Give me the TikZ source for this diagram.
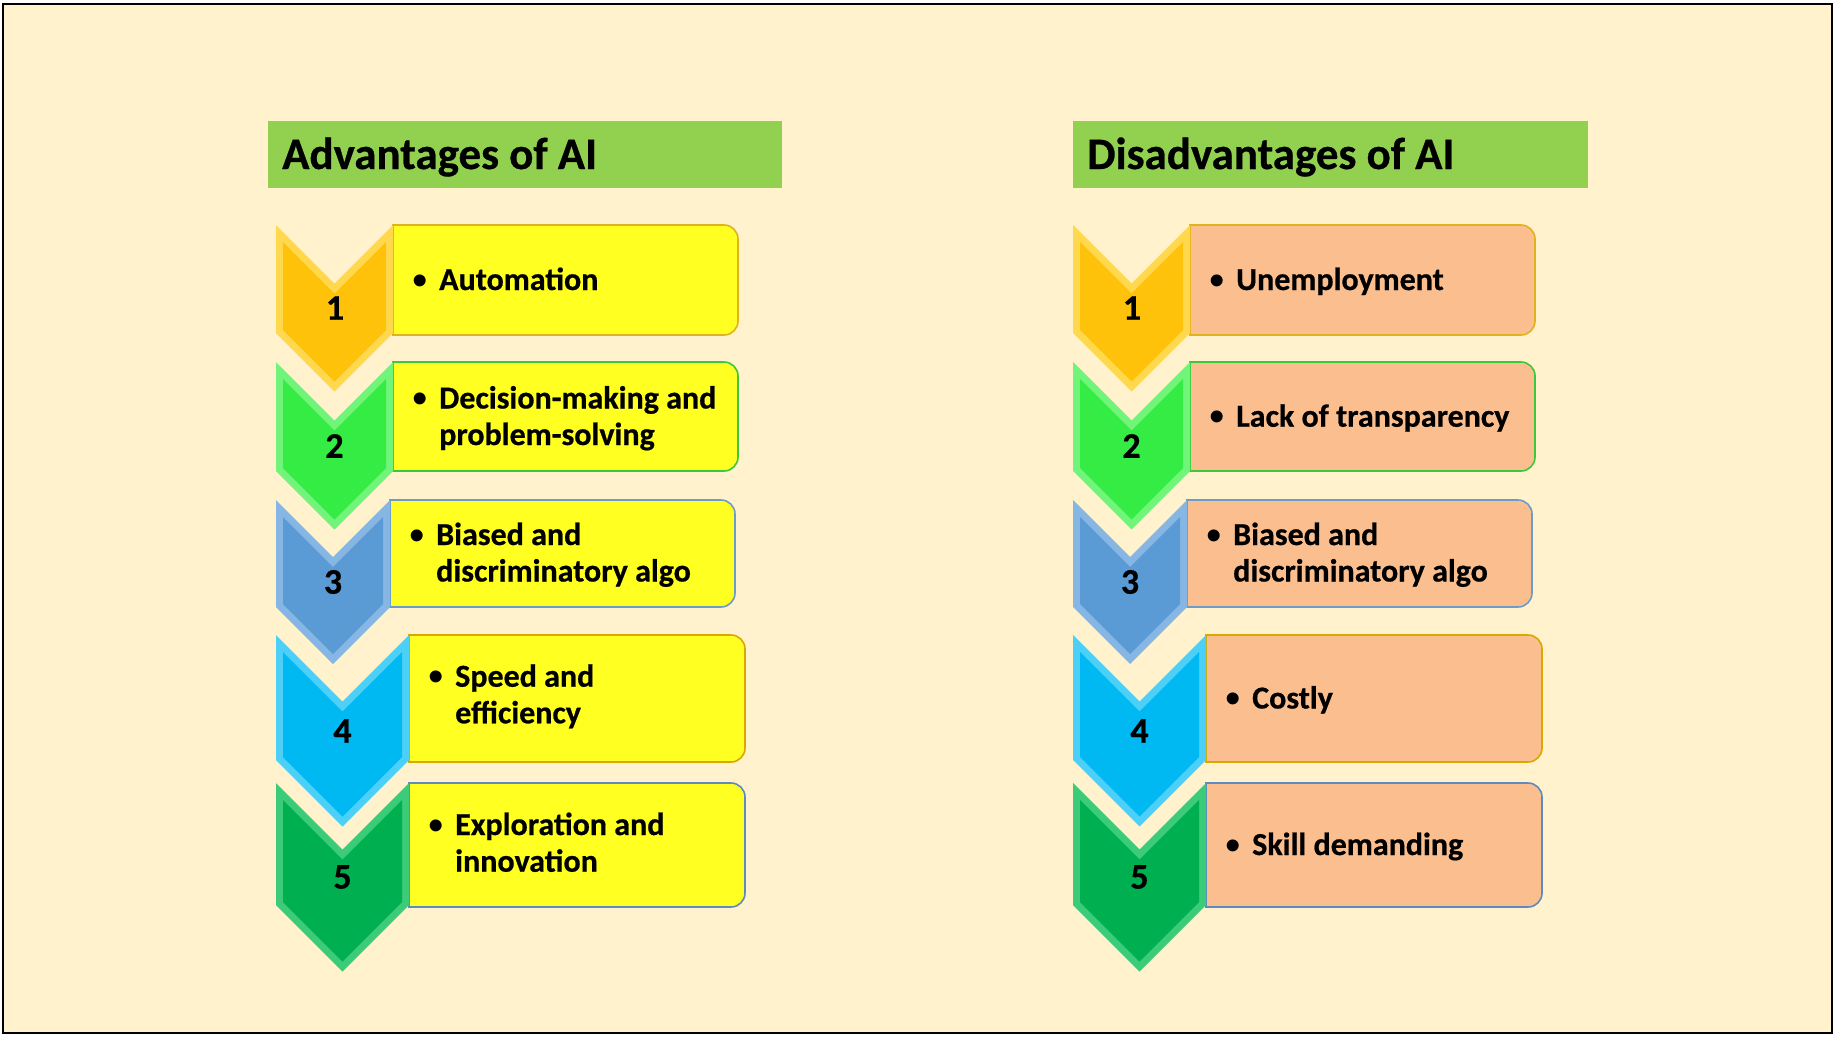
\documentclass[tikz,border=0pt]{standalone}
\usepackage{fontspec}
\setmainfont{Carlito}[BoldFeatures={FakeBold=0.6}]
\newfontfamily\bulletfont{Liberation Sans}
\definecolor{pagebg}{HTML}{FFF2CC}
\definecolor{titlegreen}{HTML}{92D050}
\definecolor{yellowfill}{HTML}{FFFF22}
\definecolor{peachfill}{HTML}{FBBF8F}
% chevron colours: main face, bevel rim, matching box border
\definecolor{c1main}{HTML}{FFC20A}\definecolor{c1rim}{HTML}{FFD84D}\definecolor{b1}{HTML}{E2B21E}
\definecolor{c2main}{HTML}{35EC45}\definecolor{c2rim}{HTML}{70F57A}\definecolor{b2}{HTML}{3CC83C}
\definecolor{c3main}{HTML}{5B9BD5}\definecolor{c3rim}{HTML}{86B6E4}\definecolor{b3}{HTML}{6F9BC8}
\definecolor{c4main}{HTML}{00B9F2}\definecolor{c4rim}{HTML}{4DD0F7}\definecolor{b4}{HTML}{D9A800}
\definecolor{c5main}{HTML}{00B050}\definecolor{c5rim}{HTML}{3CCB78}\definecolor{b5}{HTML}{5E8AC0}

% #1 left, #2 top, #3 chevron width, #4 chevron side bottom,
% #5 box bottom, #6 box right, #7 colour index, #8 box fill
\newcommand\listrow[8]{%
  \pgfmathsetmacro\chR{#1+#3}%
  \pgfmathsetmacro\chC{#1+#3/2}%
  \pgfmathsetmacro\chN{#2+#3/2}%
  \pgfmathsetmacro\chP{#4+#3/2}%
  \filldraw[fill=#8, draw=b#7, line width=1.6]
    (\chR,#2) -- (#6-14,#2) arc[start angle=-90,end angle=0,radius=14]
    -- (#6,#5-14) arc[start angle=0,end angle=90,radius=14]
    -- (\chR,#5) -- cycle;
  \fill[c#7rim] (#1,#2) -- (\chC,\chN) -- (\chR,#2) -- (\chR,#4)
    -- (\chC,\chP) -- (#1,#4) -- cycle;
  \fill[c#7main] (#1+7,#2+17) -- (\chC,\chN+10) -- (\chR-7,#2+17)
    -- (\chR-7,#4-3) -- (\chC,\chP-10) -- (#1+7,#4-3) -- cycle;
}

\begin{document}
\begin{tikzpicture}[x=1pt,y=-1pt,
  heading/.style={anchor=base west, inner sep=0, font=\fontsize{45}{52}\selectfont\bfseries},
  itemtext/.style={anchor=base west, inner sep=0, font=\fontsize{32}{38}\selectfont\bfseries},
  numlabel/.style={inner sep=0, font=\fontsize{36}{40}\selectfont\bfseries},
  dotlabel/.style={inner sep=0, font=\bulletfont\fontsize{44}{44}\selectfont}]
\useasboundingbox (0,0) rectangle (1835,1037);
\fill[white] (0,0) rectangle (1835,1037);
\filldraw[fill=pagebg, draw=black, line width=2] (3,4) rectangle (1832,1033);

% headings
\fill[titlegreen] (268,121) rectangle (782,188);
\fill[titlegreen] (1073,121) rectangle (1588,188);
\node[heading] (advtitle) at (282,169) {Advantages of AI};
\node[heading] (distitle) at (1087,169) {Disadvantages of AI};

% ---------- advantages ----------
\listrow{276}{225}{117}{333}{335}{738}{1}{yellowfill}
\listrow{276}{362}{117}{471}{471}{738}{2}{yellowfill}
\listrow{276}{500}{114}{607}{607}{735}{3}{yellowfill}
\listrow{276}{635}{133}{760}{762}{745}{4}{yellowfill}
\listrow{276}{783}{133}{905}{907}{745}{5}{yellowfill}

\node[numlabel] (a1) at (335,308) {1};
\node[numlabel] (a2) at (334.5,446) {2};
\node[numlabel] (a3) at (333,582) {3};
\node[numlabel] (a4) at (342.5,731) {4};
\node[numlabel] (a5) at (342.5,877) {5};

\node[dotlabel] (a1d) at (420,285) {•};
\node[itemtext] (a1t) at (439,290) {Automation};
\node[dotlabel] (a2d) at (420,403.5) {•};
\node[itemtext] (a2t) at (439,408.5) {Decision-making and};
\node[itemtext] (a2u) at (439,445) {problem-solving};
\node[dotlabel] (a3d) at (417,540) {•};
\node[itemtext] (a3t) at (436,545) {Biased and};
\node[itemtext] (a3u) at (436,581.5) {discriminatory algo};
\node[dotlabel] (a4d) at (436,681.7) {•};
\node[itemtext] (a4t) at (455,686.7) {Speed and};
\node[itemtext] (a4u) at (455,723.3) {efficiency};
\node[dotlabel] (a5d) at (436,830) {•};
\node[itemtext] (a5t) at (455,835) {Exploration and};
\node[itemtext] (a5u) at (455,871.7) {innovation};

% ---------- disadvantages ----------
\listrow{1073}{225}{117}{333}{335}{1535}{1}{peachfill}
\listrow{1073}{362}{117}{471}{471}{1535}{2}{peachfill}
\listrow{1073}{500}{114}{607}{607}{1532}{3}{peachfill}
\listrow{1073}{635}{133}{760}{762}{1542}{4}{peachfill}
\listrow{1073}{783}{133}{905}{907}{1542}{5}{peachfill}

\node[numlabel] (d1) at (1132,308) {1};
\node[numlabel] (d2) at (1131.5,446) {2};
\node[numlabel] (d3) at (1130,582) {3};
\node[numlabel] (d4) at (1139.5,731) {4};
\node[numlabel] (d5) at (1139.5,877) {5};

\node[dotlabel] (d1d) at (1217,285) {•};
\node[itemtext] (d1t) at (1236,290) {Unemployment};
\node[dotlabel] (d2d) at (1217,421.7) {•};
\node[itemtext] (d2t) at (1236,426.7) {Lack of transparency};
\node[dotlabel] (d3d) at (1214,540) {•};
\node[itemtext] (d3t) at (1233,545) {Biased and};
\node[itemtext] (d3u) at (1233,581.5) {discriminatory algo};
\node[dotlabel] (d4d) at (1233,703.5) {•};
\node[itemtext] (d4t) at (1252,708.5) {Costly};
\node[dotlabel] (d5d) at (1233,850) {•};
\node[itemtext] (d5t) at (1252,855) {Skill demanding};
\end{tikzpicture}
\end{document}
